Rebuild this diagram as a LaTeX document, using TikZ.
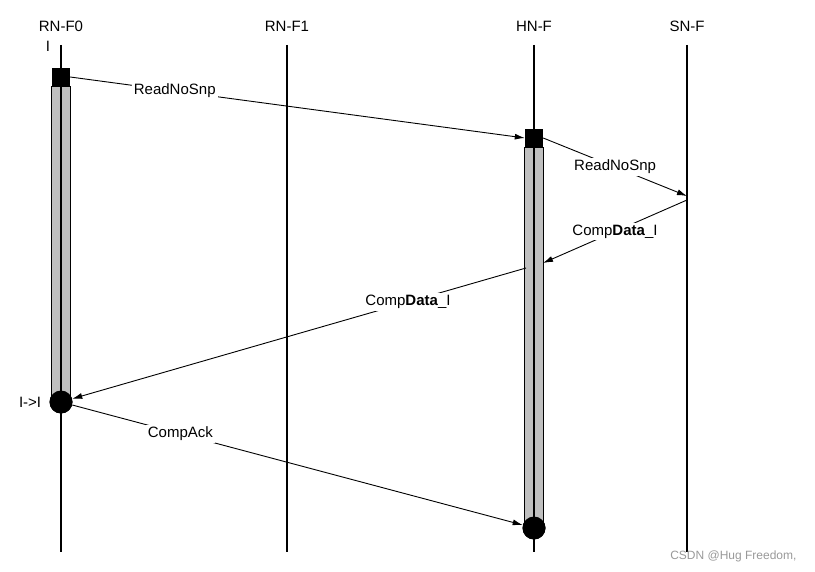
\documentclass[tikz,border=0pt]{standalone}
\usepackage{fontspec}
\setmainfont{Liberation Sans}
\usetikzlibrary{arrows.meta, calc}
\tikzset{
  head/.style  = {font=\fontsize{15}{17}\selectfont, inner sep=0pt},
  life/.style  = {line width=2pt},
  bar/.style   = {draw=black, fill=black!25, line width=1pt},
  start/.style = {rectangle, fill=black, minimum size=18pt, inner sep=0pt},
  done/.style  = {circle, fill=black, minimum size=23pt, inner sep=0pt},
  msg/.style   = {-{Latex[length=10pt,width=6pt]}, line width=0.9pt},
  lbl/.style   = {font=\fontsize{15}{17}\selectfont, fill=white, inner sep=2pt},
}

\begin{document}
\begin{tikzpicture}[x=1pt, y=-1pt]
\useasboundingbox (0,0) rectangle (815,572);

%% ── Lifeline heads ──────────────────────────────────────────────────────────
\node[head] (rn0) at (61,  26) {RN-F0};
\node[head] (rn1) at (287, 26) {RN-F1};
\node[head] (hn)  at (534, 26) {HN-F};
\node[head] (sn)  at (687, 26) {SN-F};
\node[head] (st0) at (48,  46) {I};

%% ── Start squares and end circles ───────────────────────────────────────────
\node[start] (sq0) at (61,  77)  {};
\node[start] (sq2) at (534, 138) {};
\node[done]  (c0)  at (61,  402) {};
\node[done]  (c2)  at (534, 528) {};
\node[head, anchor=east] (st1) at ($(c0.west)+(-8,0)$) {I->I};

%% ── Activation bars ─────────────────────────────────────────────────────────
\draw[bar] (sq0.south west) rectangle (c0.center -| sq0.east);
\draw[bar] (sq2.south west) rectangle (c2.center -| sq2.east);

%% ── Lifelines ───────────────────────────────────────────────────────────────
\draw[life] (61,  45) -- (61,  552);
\draw[life] (287, 45) -- (287, 552);
\draw[life] (534, 45) -- (534, 552);
\draw[life] (687, 45) -- (687, 552);

\node[start] at (sq0) {};
\node[start] at (sq2) {};
\node[done]  at (c0)  {};
\node[done]  at (c2)  {};

%% ── Message end points ──────────────────────────────────────────────────────
\coordinate (sn1) at (687, 196);
\coordinate (sn2) at (687, 200);
\coordinate (hn1) at (543, 263);
\coordinate (hn2) at (526, 268);

%% ── Messages ────────────────────────────────────────────────────────────────
\draw[msg] (sq0.east) -- node[lbl, pos=0.23]{ReadNoSnp} (sq2.west);
\draw[msg] (sq2.east) -- node[lbl, pos=0.5]{ReadNoSnp} (sn1);
\draw[msg] (sn2) -- node[lbl, pos=0.5]{Comp\textbf{Data}\_I} (hn1);
\draw[msg] (hn2) -- node[lbl, pos=0.26]{Comp\textbf{Data}\_I} (c0);
\draw[msg] (c0) -- node[lbl, pos=0.24]{CompAck} (c2);

%% ── Watermark ───────────────────────────────────────────────────────────────
\node[font=\fontsize{12}{14}\selectfont, text=black!40, anchor=east] (wm)
  at (800, 556) {CSDN @Hug Freedom,};

\end{tikzpicture}
\end{document}
